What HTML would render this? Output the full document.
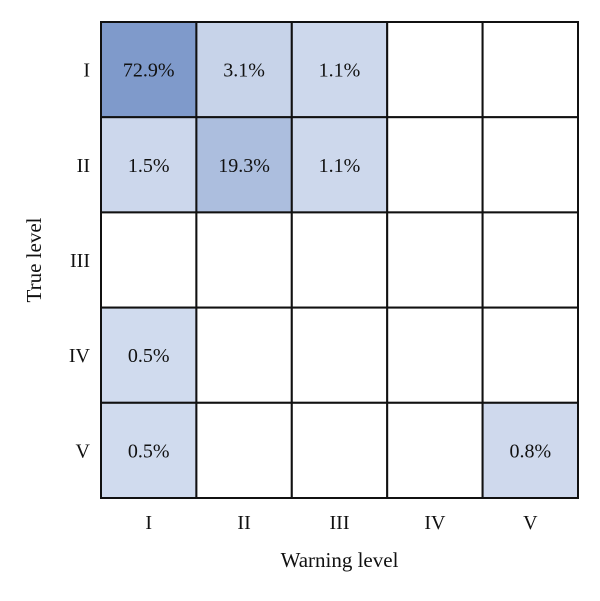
<!DOCTYPE html>
<html><head><meta charset="utf-8"><style>
body{margin:0;background:#fff;}
svg text{font-family:"Liberation Serif",serif;fill:#111;}
</style></head><body>
<svg id="c" width="600" height="596"></svg>
<script>
const levels=["I","II","III","IV","V"];
// values[row(true)][col(warning)], null = empty
const values=[
 [72.9,3.1,1.1,null,null],
 [1.5,19.3,1.1,null,null],
 [null,null,null,null,null],
 [0.5,null,null,null,null],
 [0.5,null,null,null,0.8]
];
const svg=document.getElementById('c');
const NS='http://www.w3.org/2000/svg';
const L=101,T=22,W=477,H=476;
const cw=W/levels.length,ch=H/levels.length;
const xPos=i=>L+i*cw, yPos=i=>T+i*ch;
function color(v){
 const t=Math.min(1,v/72.9);
 const a=[214,223,240],b=[127,154,203];
 const f=Math.pow(t,0.55);
 return 'rgb('+a.map((c,i)=>Math.round(c+(b[i]-c)*f)).join(',')+')';
}
function mk(tag,attrs,txt){const e=document.createElementNS(NS,tag);for(const k in attrs)e.setAttribute(k,attrs[k]);if(txt!=null)e.textContent=txt;svg.appendChild(e);return e;}
values.forEach((row,r)=>row.forEach((v,c)=>{
 const rect=mk('rect',{x:xPos(c),y:yPos(r),width:cw,height:ch,fill:v==null?'#fff':color(v),stroke:'#111','stroke-width':2});
 
 
 if(v!=null){
  const t=mk('text',{x:xPos(c)+cw/2,y:yPos(r)+ch/2+7,'text-anchor':'middle','font-size':20},v.toFixed(1)+'%');
  
  
 }
}));
levels.forEach((lv,i)=>{
 const t=mk('text',{x:xPos(i)+cw/2,y:529,'text-anchor':'middle','font-size':20},lv);
 
 
 const u=mk('text',{x:90,y:yPos(i)+ch/2+7,'text-anchor':'end','font-size':20},lv);
 
 
});
const xt=mk('text',{x:L+W/2,y:567,'text-anchor':'middle','font-size':21},'Warning level');


const yt=mk('text',{x:0,y:0,'text-anchor':'middle','font-size':21,transform:'translate(41,'+(T+H/2)+') rotate(-90)'},'True level');


</script>
</body></html>
